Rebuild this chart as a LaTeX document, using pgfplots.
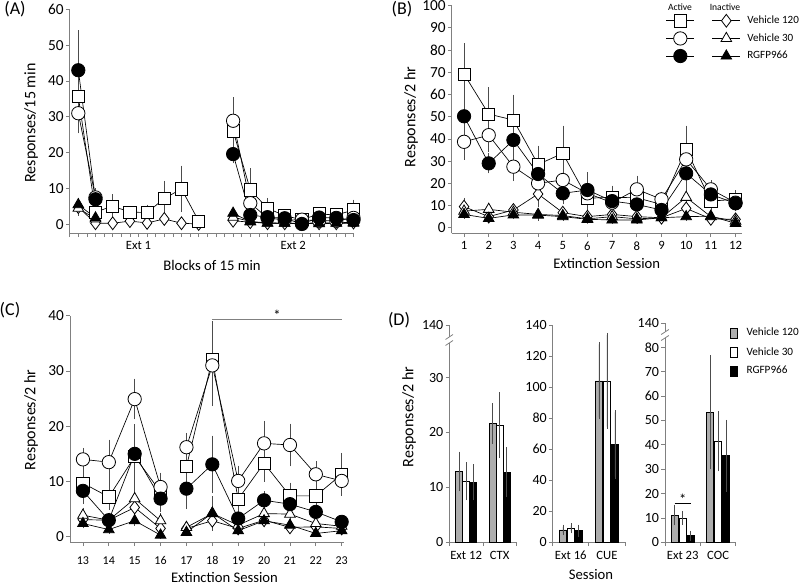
\documentclass[border=0pt]{standalone}
\usepackage{fontspec}
\setmainfont{Carlito}
\usepackage{pgfplots}
\pgfplotsset{compat=1.18}
\definecolor{axgray}{gray}{0.5}
\definecolor{bargray}{gray}{0.68}
\definecolor{ebgray}{gray}{0.3}
\pgfplotsset{
  panel/.style={
    scale only axis, axis lines*=left, axis line style={axgray, line width=0.7pt, -},
    every tick/.style={axgray, line width=0.6pt}, tick align=outside,
    major tick length=2.8pt, minor tick length=2.8pt,
    enlargelimits=false, clip=false, unbounded coords=jump,
    /pgf/number format/assume math mode=true,
    yticklabel style={font=\fontsize{11.5}{12}\selectfont, inner sep=1.5pt},
    xticklabel style={font=\fontsize{9.5}{11}\selectfont},
    legend image code/.code={\draw[mark repeat=2,mark phase=2,##1] plot coordinates {(0pt,0pt) (10.5pt,0pt) (21pt,0pt)};},
  },
  sqs/.style={black, line width=0.5pt, mark=square*, mark size=4.6pt, mark options={solid, fill=white, draw=black, line width=0.6pt}},
  ocs/.style={black, line width=0.5pt, mark=*, mark size=5pt, mark options={solid, fill=white, draw=black, line width=0.6pt}},
  fcs/.style={black, line width=0.5pt, mark=*, mark size=5pt, mark options={solid, fill=black, draw=black, line width=0.6pt}},
  dis/.style={black, line width=0.5pt, mark=diamond*, mark size=4.8pt, mark options={solid, fill=white, draw=black, line width=0.6pt}},
  ots/.style={black, line width=0.5pt, mark=triangle*, mark size=4.6pt, mark options={solid, fill=white, draw=black, line width=0.6pt}},
  fts/.style={black, line width=0.5pt, mark=triangle*, mark size=4.6pt, mark options={solid, fill=black, draw=black, line width=0.6pt}},
  eb/.style={error bars/y dir=both, error bars/y explicit,
    error bars/error bar style={ebgray, line width=0.4pt, solid},
    error bars/error mark options={ebgray, mark size=1.6pt, line width=0.4pt}},
  barleg/.style={legend image code/.code={\draw[##1, line width=0.5pt] (0pt,-3.8pt) rectangle (5.2pt,3.8pt);}},
  bars/.style={ybar, bar width=0.2, bar shift=0, draw=black, line width=0.5pt, eb, forget plot},
}
\begin{document}
\begin{tikzpicture}[x=0.75pt, y=-0.75pt]
\path[use as bounding box] (0,0) rectangle (800,584);

% ---------------- Panel A ----------------
\begin{axis}[panel, at={(52.275pt,-174.975pt)}, anchor=south west, width=212.85pt, height=168pt,
  xmin=0.5, xmax=17, ymin=-2.5, ymax=60, ytick={0,10,...,60},
  xtick={0.5,1,...,17}, xticklabels={},
  extra x ticks={4.5,13.5}, extra x tick labels={Ext 1,Ext 2},
  extra x tick style={major tick length=0pt, tick label style={font=\fontsize{8}{9}\selectfont, yshift=-2.3pt}}]
\addplot[dis, eb] table[x=x, y=y, y error=e] {
x y e
1 4.8 1.5
2 0.3 0.3
3 0.3 0.2
4 0.9 0.3
5 0.4 0.3
6 1.5 0.6
7 0.3 0.2
8 0.1 0.1
9 nan nan
10 1.0 0.5
11 0.6 0.3
12 0.3 0.2
13 0.3 0.2
14 0.2 0.2
15 0.3 0.2
16 0.3 0.2
17 0.5 0.3
};
\addplot[ots, eb] table[x=x, y=y, y error=e] {
x y e
1 4.5 1.5
2 1.5 0.5
9 nan nan
10 2.0 0.8
11 0.8 0.4
12 0.4 0.2
13 0.3 0.2
14 0.3 0.2
15 0.4 0.2
16 0.4 0.2
17 0.6 0.3
};
\addplot[sqs, eb] table[x=x, y=y, y error=e] {
x y e
1 35.6 6
2 3.4 1.5
3 5.1 2.7
4 3.4 1.0
5 3.3 1.6
6 7.2 4.3
7 9.9 5.9
8 0.9 0.5
9 nan nan
10 26.1 4
11 9.6 5.4
12 4.5 2.3
13 2.4 0.8
14 1.3 0.5
15 2.9 0.8
16 2.6 0.7
17 4.0 2.3
};
\addplot[ocs, eb] table[x=x, y=y, y error=e] {
x y e
1 31 5
2 7.5 2
9 nan nan
10 28.9 6
11 5.9 2
12 1.8 0.8
13 1.2 0.5
14 1.3 0.5
15 1.0 0.4
16 1.0 0.4
17 1.8 0.8
};
\addplot[fcs, eb] table[x=x, y=y, y error=e] {
x y e
1 43 10.5
2 7 1.5
9 nan nan
10 19.6 2
11 2.6 1
12 2.0 0.6
13 1.7 0.5
14 0.1 0.1
15 1.9 0.5
16 1.8 0.5
17 1.2 0.4
};
\addplot[fts, eb] table[x=x, y=y, y error=e] {
x y e
1 5.5 1.2
2 1.8 0.5
9 nan nan
10 3.1 0.8
11 0.7 0.3
12 0.3 0.2
13 0.3 0.2
14 0.2 0.1
15 0.2 0.1
16 0.3 0.2
17 0.3 0.2
};
\end{axis}

% ---------------- Panel B ----------------
\begin{axis}[panel, at={(338.775pt,-174.975pt)}, anchor=south west, width=217.5pt, height=170.7pt,
  xmin=0.5, xmax=12.25, ymin=-2.5, ymax=100, ytick={0,10,...,100},
  xtick={1,...,12},
  legend columns=2, legend cell align=left,
  legend style={at={(0.738,0.965)}, anchor=north west, draw=none, fill=none, inner sep=0pt,
    font=\fontsize{8.3}{10}\selectfont, nodes={inner sep=1.5pt}, row sep=3pt,
    /tikz/every odd column/.append style={column sep=3.5pt}}]
\addplot[dis, eb, forget plot] table[x=x, y=y, y error=e] {
x y e
1 9.5 3
2 5 1.5
3 8 1.5
4 15.2 5
5 6.8 1.8
6 5 1
7 6 1.5
8 5 1
9 4.5 1
10 8.7 3
11 4 1
12 3.8 1
};
\addplot[ots, eb, forget plot] table[x=x, y=y, y error=e] {
x y e
1 7.5 1.5
2 8.3 2
3 7 1.5
4 6 1.5
5 5.5 1
6 4 1
7 5 1
8 4 1
9 4.5 1
10 13.7 3.5
11 5 1
12 3 1
};
\addplot[sqs, eb, forget plot] table[x=x, y=y, y error=e] {
x y e
1 69.2 13
2 51.2 11
3 48.5 10.5
4 28.5 7.5
5 33.5 11.5
6 13.3 3
7 13.7 4.3
8 13.5 4
9 10.5 2
10 35.3 9.7
11 12.0 3
12 12.8 3.2
};
\addplot[ocs, eb, forget plot] table[x=x, y=y, y error=e] {
x y e
1 38.7 7.2
2 41.7 6.7
3 27.5 5.5
4 20 4
5 21.5 5
6 15.5 8.5
7 11.3 3
8 17.3 5.2
9 12.8 2.5
10 30.8 5
11 17.3 3.2
12 11.3 3
};
\addplot[fcs, eb, forget plot] table[x=x, y=y, y error=e] {
x y e
1 50.2 10
2 29 3.5
3 39.5 6
4 24.2 9
5 15.5 4
6 17 3
7 12 3
8 10.5 2.5
9 8 2.5
10 24.5 6
11 15 3
12 11 2.5
};
\addplot[fts, eb, forget plot] table[x=x, y=y, y error=e] {
x y e
1 6 1
2 4.2 0.8
3 5.8 1
4 5.7 1.5
5 5 1
6 3.8 0.8
7 3.5 0.8
8 3.5 0.8
9 4.5 0.8
10 5 1
11 5.2 1
12 2 0.5
};
\addlegendimage{sqs}\addlegendentry{\hspace*{6.5pt}}
\addlegendimage{dis}\addlegendentry{Vehicle 120}
\addlegendimage{ocs}\addlegendentry{\hspace*{6.5pt}}
\addlegendimage{ots}\addlegendentry{Vehicle 30}
\addlegendimage{fcs}\addlegendentry{\hspace*{6.5pt}}
\addlegendimage{fts}\addlegendentry{RGFP966}
\end{axis}

% ---------------- Panel C ----------------
\begin{axis}[panel, at={(52.5pt,-406.725pt)}, anchor=south west, width=205.7pt, height=170pt,
  xmin=12.5, xmax=23.1, ymin=-1, ymax=40, ytick={0,10,...,40},
  xtick={13,...,23}, xticklabel style={font=\fontsize{9}{10}\selectfont, yshift=-4.3pt}]
\addplot[dis, eb] table[x=x, y=y, y error=e] {
x y e
13 3.1 0.8
14 3 0.8
15 5.3 1.5
16 1.5 0.7
16.5 nan nan
17 1.5 0.5
18 2.9 1
19 1.5 0.5
20 3 0.8
21 1.7 0.5
22 1.8 0.5
23 1.5 0.5
};
\addplot[ots, eb] table[x=x, y=y, y error=e] {
x y e
13 3.9 1
14 3 1
15 6.9 2.3
16 2.9 1
16.5 nan nan
17 1.7 0.7
18 4.2 2.7
19 2.1 0.7
20 4.2 1.2
21 4.1 1
22 2.4 0.7
23 1.9 0.5
};
\addplot[sqs, eb] table[x=x, y=y, y error=e] {
x y e
13 9.7 2.5
14 7.2 2
15 14.5 5.5
16 8.1 2
16.5 nan nan
17 12.7 2.5
18 32.1 6.5
19 6.8 2
20 13.3 3
21 7.4 2
22 7.4 1.5
23 11.3 3.5
};
\addplot[ocs, eb] table[x=x, y=y, y error=e] {
x y e
13 14 1.7
14 13.5 3.7
15 24.9 3.3
16 9 2.2
16.5 nan nan
17 16.2 2.2
18 31 7
19 10.1 2.4
20 16.9 3.7
21 16.6 3.5
22 11.3 2
23 10.1 1.8
};
\addplot[fcs, eb] table[x=x, y=y, y error=e] {
x y e
13 8.3 2
14 3 1
15 15 4.5
16 6.9 2
16.5 nan nan
17 8.7 3.3
18 13.1 4.8
19 3.3 1
20 6.6 1.3
21 5.9 1.5
22 4.5 1
23 2.7 0.5
};
\addplot[fts, eb] table[x=x, y=y, y error=e] {
x y e
13 2.4 0.5
14 1.3 0.4
15 2.9 0.5
16 0.3 0.3
16.5 nan nan
17 0.8 0.3
18 4.3 1
19 1.1 0.3
20 2.9 0.8
21 2.1 0.6
22 0.6 0.3
23 1.1 0.3
};
\draw[axgray, line width=0.6pt] (axis cs:18,39.3) -- (axis cs:23,39.3);
\node[font=\fontsize{11}{12}\selectfont] at (axis cs:20.5,40.0) {*};
\end{axis}

% ---------------- Panel D1 ----------------
\begin{axis}[panel, at={(336.975pt,-406.725pt)}, anchor=south west, width=50.4pt, height=162.7pt,
  xmin=0.5, xmax=2.5, ymin=0, ymax=39.5, ytick={0,10,20,30},
  extra y ticks={39.5}, extra y tick labels={140},
  yticklabel style={font=\fontsize{10.5}{12}\selectfont},
  xtick={0.5,1.5,2.5}, xticklabels={},
  extra x ticks={1,2}, extra x tick labels={Ext 12,CTX},
  extra x tick style={major tick length=0pt, tick label style={font=\fontsize{8}{9}\selectfont, yshift=-3.2pt}}]
\addplot[bars, fill=bargray] table[x=x, y=y, y error=e] {
x y e
0.79 12.9 3.2
1.79 21.6 3.3
};
\addplot[bars, fill=white] table[x=x, y=y, y error=e] {
x y e
1 11.1 3.1
2 21.3 5.6
};
\addplot[bars, fill=black] table[x=x, y=y, y error=e] {
x y e
1.21 10.9 2.9
2.21 12.8 4.1
};
\end{axis}

% ---------------- Panel D2 ----------------
\begin{axis}[panel, at={(414.525pt,-406.725pt)}, anchor=south west, width=54.2pt, height=163pt,
  xmin=0.5, xmax=2.5, ymin=0, ymax=140, ytick={0,20,...,140},
  yticklabel style={font=\fontsize{10.5}{12}\selectfont},
  xtick={0.5,1.5,2.5}, xticklabels={},
  extra x ticks={1,2}, extra x tick labels={Ext 16,CUE},
  extra x tick style={major tick length=0pt, tick label style={font=\fontsize{8}{9}\selectfont, yshift=-3.2pt}}]
\addplot[bars, fill=bargray] table[x=x, y=y, y error=e] {
x y e
0.78 8 2
1.78 104 23.5
};
\addplot[bars, fill=white] table[x=x, y=y, y error=e] {
x y e
1 9 1.8
2 104 29.5
};
\addplot[bars, fill=black] table[x=x, y=y, y error=e] {
x y e
1.22 7.5 2.5
2.22 63 20.7
};
\end{axis}

% ---------------- Panel D3 ----------------
\begin{axis}[panel, at={(498.75pt,-406.725pt)}, anchor=south west, width=53.1pt, height=164.25pt,
  xmin=0.5, xmax=2.5, ymin=0, ymax=89.85, ytick={0,10,...,80},
  extra y ticks={89.85}, extra y tick labels={140},
  yticklabel style={font=\fontsize{10.5}{12}\selectfont},
  xtick={0.5,1.5,2.5}, xticklabels={},
  extra x ticks={1,2}, extra x tick labels={Ext 23,COC},
  extra x tick style={major tick length=0pt, tick label style={font=\fontsize{8}{9}\selectfont, yshift=-3.2pt}},
  legend cell align=left,
  legend style={at={(0.918,0.988)}, anchor=north west, draw=none, fill=none, inner sep=0pt,
    font=\fontsize{8.4}{10}\selectfont, nodes={inner sep=1.5pt}, row sep=4pt,
    /tikz/every odd column/.append style={column sep=5pt}}]
\addplot[bars, fill=bargray] table[x=x, y=y, y error=e] {
x y e
0.775 11.2 3.4
1.775 53.3 22.5
};
\addplot[bars, fill=white] table[x=x, y=y, y error=e] {
x y e
1 10 2
2 41.5 11.5
};
\addplot[bars, fill=black] table[x=x, y=y, y error=e] {
x y e
1.225 2.7 1.2
2.225 35.5 13.9
};
\draw[black, line width=0.5pt] (axis cs:0.775,16) -- (axis cs:1.225,16);
\node[font=\fontsize{11}{12}\selectfont] at (axis cs:1,17.5) {*};
\addlegendimage{barleg, fill=bargray, draw=black}\addlegendentry{Vehicle 120}
\addlegendimage{barleg, fill=white, draw=black}\addlegendentry{Vehicle 30}
\addlegendimage{barleg, fill=black, draw=black}\addlegendentry{RGFP966}
\end{axis}

% axis breaks
\fill[white] (446,337) rectangle (452.6,343);
\draw[axgray, line width=0.6pt] (445.5,339.5) -- (453,334.5);
\draw[axgray, line width=0.6pt] (445.5,345.5) -- (453,340.5);
\fill[white] (661.7,332) rectangle (668.3,338);
\draw[axgray, line width=0.6pt] (661.2,334.5) -- (668.8,329.5);
\draw[axgray, line width=0.6pt] (661.2,340.5) -- (668.8,335.5);

% labels
\node[font=\fontsize{13.5}{15}\selectfont] at (15,9.5) {(A)};
\node[font=\fontsize{13.5}{15}\selectfont] at (402,9.5) {(B)};
\node[font=\fontsize{13.5}{15}\selectfont] at (10,310) {(C)};
\node[font=\fontsize{13.5}{15}\selectfont] at (399,320.5) {(D)};
\node[rotate=90, font=\fontsize{12}{13}\selectfont] at (31,123) {Responses/15 min};
\node[font=\fontsize{11}{12}\selectfont] at (212,265) {Blocks of 15 min};
\node[rotate=90, font=\fontsize{12}{13}\selectfont] at (411,117) {Responses/2 hr};
\node[font=\fontsize{11}{12}\selectfont] at (606.7,263.3) {Extinction Session};
\node[rotate=90, font=\fontsize{12}{13}\selectfont] at (31,420) {Responses/2 hr};
\node[font=\fontsize{11}{12}\selectfont] at (224.5,577.3) {Extinction Session};
\node[rotate=90, font=\fontsize{12}{13}\selectfont] at (409,417) {Responses/2 hr};
\node[font=\fontsize{11}{12}\selectfont] at (591,575) {Session};
\node[font=\fontsize{7.2}{8}\selectfont] at (680,7) {Active};
\node[font=\fontsize{7.2}{8}\selectfont] at (725,7) {Inactive};
\end{tikzpicture}
\end{document}
